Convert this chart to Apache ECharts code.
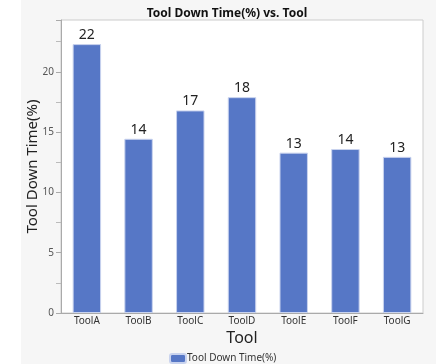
<!DOCTYPE html>
<html>
<head>
<meta charset="utf-8">
<script src="https://cdn.jsdelivr.net/npm/echarts@6/dist/echarts.min.js"></script>
<style>
  html, body { margin: 0; padding: 0; background: #ffffff; }
  #chart { width: 436px; height: 364px; }
</style>
</head>
<body>
<div id="chart"></div>
<script>
// Tools and their down time percentages
const tools = ['ToolA', 'ToolB', 'ToolC', 'ToolD', 'ToolE', 'ToolF', 'ToolG'];
const downTime = [22.3, 14.45, 16.8, 17.9, 13.3, 13.6, 12.95];
const yTicks = [0, 5, 10, 15, 20];

const FONT = '"Noto Sans", "Open Sans", sans-serif';

const chart = echarts.init(document.getElementById('chart'), null, { renderer: 'canvas' });

chart.setOption({
  animation: false,
  textStyle: { fontFamily: FONT },
  graphic: [
    {
      type: 'rect',
      z: -10,
      shape: { x: 21, y: 0, width: 415, height: 364 },
      style: { fill: '#f6f6f6' }
    }
  ],
  title: {
    text: 'Tool Down Time(%) vs. Tool',
    left: 222,
    top: 3,
    textAlign: 'center',
    textStyle: { fontFamily: FONT, fontSize: 12, fontWeight: 'bold', color: '#111' }
  },
  legend: {
    top: 348,
    left: 164,
    itemWidth: 16,
    itemHeight: 9,
    itemGap: 4,
    textStyle: { fontFamily: FONT, fontSize: 10, color: '#333', padding: [0, 0, 0, -4] },
    data: ['Tool Down Time(%)']
  },
  grid: {
    left: 61,
    right: 13,
    top: 20,
    bottom: 51,
    show: true,
    backgroundColor: '#ffffff',
    borderColor: '#cccccc',
    borderWidth: 1
  },
  xAxis: {
    type: 'category',
    data: tools,
    name: 'Tool',
    nameLocation: 'middle',
    nameGap: 17,
    nameMoveOverlap: false,
    nameTextStyle: { fontFamily: FONT, fontSize: 16, color: '#222' },
    axisLine: { show: true, lineStyle: { color: '#aaaaaa' } },
    axisTick: { show: false },
    axisLabel: { fontFamily: FONT, fontSize: 10, color: '#333', margin: 3 }
  },
  yAxis: {
    type: 'value',
    min: 0,
    max: 24.3,
    interval: 5,
    name: 'Tool Down Time(%)',
    nameLocation: 'middle',
    nameGap: 21,
    nameMoveOverlap: false,
    nameTextStyle: { fontFamily: FONT, fontSize: 15, color: '#222' },
    axisLine: { show: true, lineStyle: { color: '#aaaaaa' } },
    axisTick: { show: true, length: 5, lineStyle: { color: '#aaaaaa' } },
    minorTick: { show: true, splitNumber: 2, length: 5, lineStyle: { color: '#bbbbbb' } },
    splitLine: { show: false },
    axisLabel: {
      fontFamily: FONT, fontSize: 10, color: '#555', margin: 7,
      formatter: v => (yTicks.includes(v) ? String(v) : '')
    }
  },
  series: [
    {
      name: 'Tool Down Time(%)',
      type: 'bar',
      data: downTime,
      barWidth: '55%',
      itemStyle: { color: '#5677c6', borderColor: '#c9d3ee', borderWidth: 1 },
      label: {
        show: true,
        position: 'top',
        distance: 2,
        fontFamily: FONT,
        fontSize: 14,
        color: '#222',
        formatter: p => Math.round(p.value).toString()
      }
    }
  ]
});
</script>
</body>
</html>
